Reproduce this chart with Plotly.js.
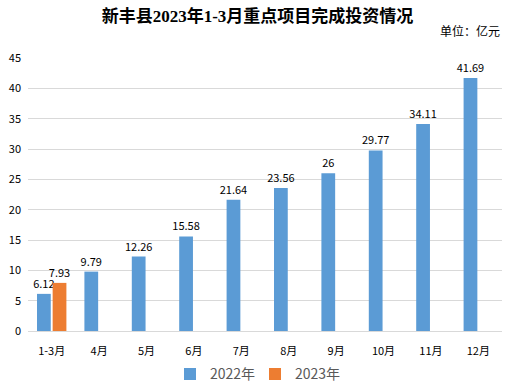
<!DOCTYPE html>
<html><head><meta charset="utf-8">
<script src="https://cdn.plot.ly/plotly-3.0.1.min.js"></script>
<style>html,body{margin:0;padding:0;background:#fff}#c{width:510px;height:388px}</style>
</head><body><div id="c"></div>
<script>
const categories = ["1-3月","4月","5月","6月","7月","8月","9月","10月","11月","12月"];
const values2022 = [6.12,9.79,12.26,15.58,21.64,23.56,26,29.77,34.11,41.69];
const values2023 = [7.93,null,null,null,null,null,null,null,null,null];
const yTicks = [0,5,10,15,20,25,30,35,40,45];

const font = "Noto Sans CJK SC, DejaVu Sans, sans-serif";
const labelFmt = v => v == null ? "" : String(v);

const traces = [
  {type:"bar", name:"2022年", x:categories, y:values2022,
   marker:{color:"#5b9bd5"}, text:values2022.map(labelFmt), textposition:"outside",
   constraintext:"none", textfont:{size:11,color:"#000",family:font}, cliponaxis:false},
  {type:"bar", name:"2023年", x:categories, y:values2023,
   marker:{color:"#ed7d31"}, text:values2023.map(labelFmt), textposition:"outside",
   constraintext:"none", textfont:{size:11,color:"#000",family:font}, cliponaxis:false}
];

const layout = {
  width:510, height:388,
  margin:{l:28,r:8,t:58,b:57},
  paper_bgcolor:"#fff", plot_bgcolor:"#fff",
  barmode:"group", bargap:0.34, bargroupgap:0.12,
  font:{family:font,size:11,color:"#000"},
  title:{text:"<b>新丰县2023年1-3月重点项目完成投资情况</b>", x:0.505, xanchor:"center", y:0.958, yanchor:"middle",
         font:{family:"Liberation Serif, Noto Sans CJK SC, serif", size:17, color:"#000"}},
  xaxis:{type:"category", showgrid:false, showline:false, zeroline:false,
         tickfont:{size:11,color:"#000"}, ticks:"", ticklen:0, ticklabelstandoff:12},
  yaxis:{range:[0,45], tickvals:yTicks, showgrid:true, gridcolor:"#d9d9d9", gridwidth:1,
         zeroline:true, zerolinecolor:"#d9d9d9", showline:false, ticks:"",
         tickfont:{size:11,color:"#000"}, ticklabelstandoff:6},
  legend:{orientation:"h", x:0.5, xanchor:"center", xref:"container", yref:"container", y:0.035, yanchor:"middle",
          font:{size:14,color:"#595959"}, itemwidth:30, entrywidth:40, traceorder:"normal"},
  annotations:[{text:"单位：亿元", xref:"paper", yref:"paper", x:1.0, xanchor:"right",
                y:1.1, yanchor:"middle", showarrow:false, font:{size:12,color:"#000"}}]
};
Plotly.newPlot("c", traces, layout, {displayModeBar:false, staticPlot:true});
</script></body></html>
